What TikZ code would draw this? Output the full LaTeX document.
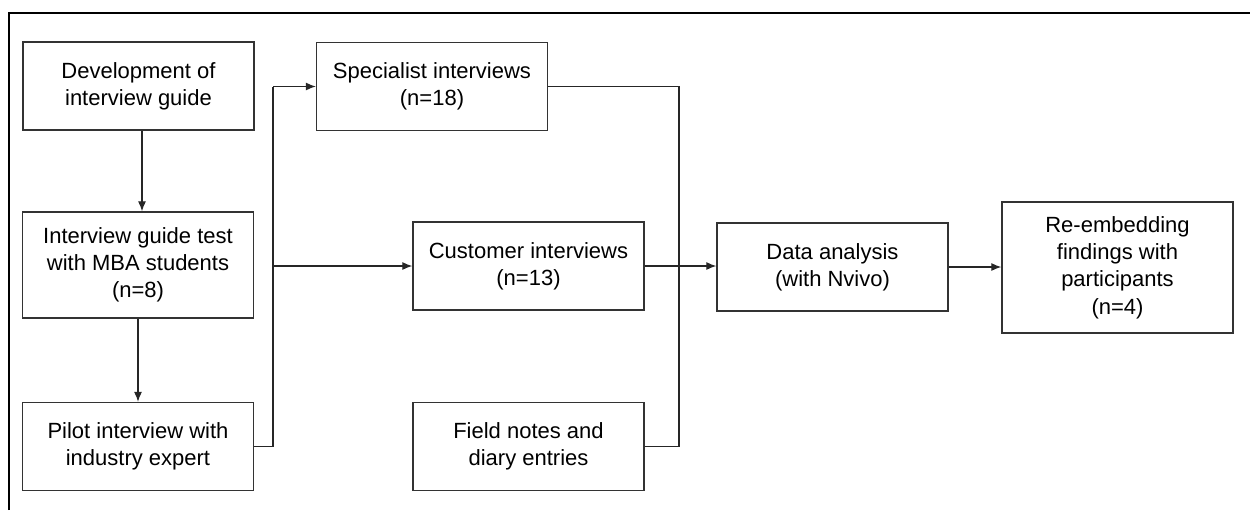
\documentclass[tikz,border=0pt]{standalone}
\usepackage{fontspec}
\setmainfont{Liberation Sans}
\usetikzlibrary{arrows.meta}
\begin{document}
\begin{tikzpicture}[x=0.5pt,y=-0.5pt,
  box/.style={draw=black!80, line width=0.65pt, fill=white, align=center,
    minimum width=115.5pt, inner sep=2pt,
    font=\fontsize{11pt}{13.6pt}\selectfont},
  twoline/.style={box, minimum height=44pt},
  threeline/.style={box, minimum height=53pt},
  fourline/.style={box, minimum height=65.5pt},
  conn/.style={draw=black!85, line width=0.6pt},
  arr/.style={conn, -{Latex[length=5pt,width=4pt]}},
  frame/.style={draw=black, line width=1.1pt}]
\useasboundingbox (0,0) rectangle (1250,510);
\draw[frame] (9,510) -- (9,13) -- (1250,13);

\node[twoline]   (dev)   at (138.5,86)   {Development of\\interview guide};
\node[threeline] (test)  at (138,265)    {Interview guide test\\with MBA students\\(n=8)};
\node[twoline]   (pilot) at (138,446.5)  {Pilot interview with\\industry expert};
\node[twoline]   (spec)  at (432,86.5)   {Specialist interviews\\(n=18)};
\node[twoline]   (cust)  at (528.5,266)  {Customer interviews\\(n=13)};
\node[twoline]   (field) at (528.5,446.5){Field notes and\\diary entries};
\node[twoline]   (data)  at (832.5,267)  {Data analysis\\(with Nvivo)};
\node[fourline]  (reemb) at (1117.5,267.5){Re-embedding\\findings with\\participants\\(n=4)};

\coordinate (split) at (273,446.5);
\coordinate (merge) at (679,88);

\draw[arr] ([xshift=1.75pt]dev.south) -- ([xshift=1.75pt]dev.south |- test.north);
\draw[arr] (test.south) -- (test.south |- pilot.north);
\draw[conn] (pilot.east) -- (split |- pilot.east) -- (split |- spec.west);
\draw[arr] (split |- spec.west) -- (spec.west);
\draw[arr] (split |- cust.west) -- (cust.west);
\draw[conn] (spec.east) -- (merge |- spec.east) -- (merge |- field.east) -- (field.east);
\draw[arr] (cust.east) -- (data.west |- cust.east);
\draw[arr] (data.east) -- (reemb.west |- data.east);
\end{tikzpicture}
\end{document}
